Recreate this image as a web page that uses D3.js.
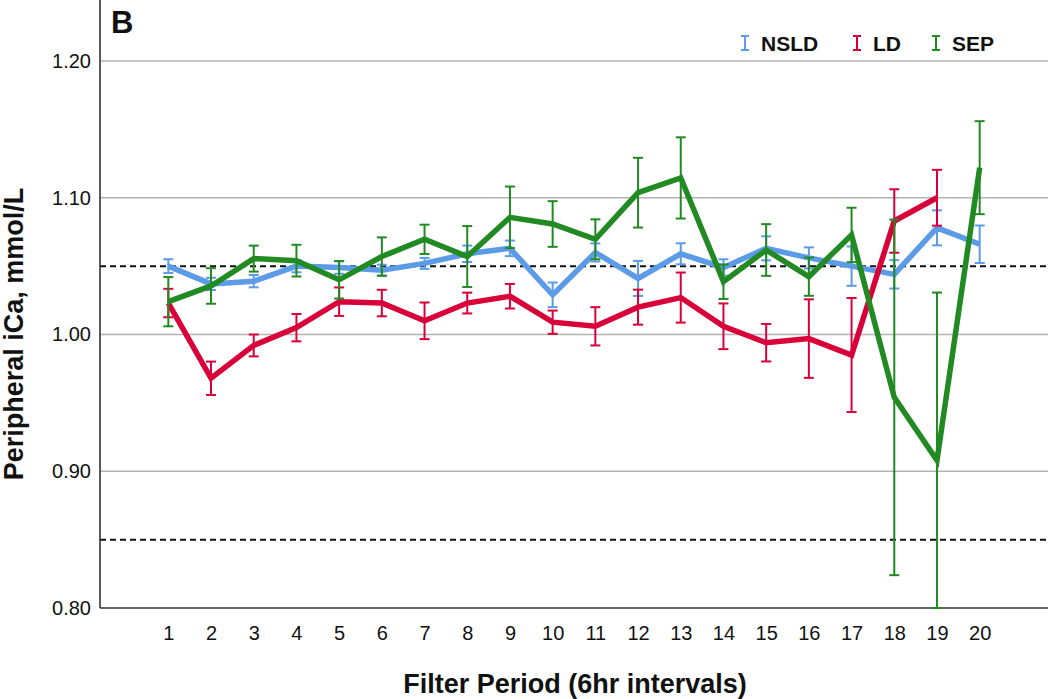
<!DOCTYPE html>
<html><head><meta charset="utf-8">
<script src="https://cdn.jsdelivr.net/npm/d3@7"></script>
<style>body{margin:0;background:#fff;} svg{display:block;font-family:"Liberation Sans",Arial,sans-serif;}</style>
</head><body>
<svg id="chart" width="1050" height="699"></svg>
<script>
const periods = [1,2,3,4,5,6,7,8,9,10,11,12,13,14,15,16,17,18,19,20];
const yTicks = [0.80,0.90,1.00,1.10,1.20];
const refLines = [1.05,0.85];
const seriesNames = ["NSLD","LD","SEP"];
const seriesColors = ["#5b9be8","#d9003a","#228a22"];
const nsldMean = [1.050,1.037,1.039,1.050,1.049,1.047,1.052,1.059,1.063,1.029,1.060,1.041,1.059,1.049,1.063,1.056,1.050,1.044,1.078,1.066];
const nsldErr  = [0.005,0.0045,0.0045,0.0045,0.0046,0.004,0.004,0.006,0.0057,0.009,0.0066,0.0128,0.0077,0.006,0.0088,0.0077,0.0144,0.0104,0.0128,0.0137];
const ldMean   = [1.023,0.968,0.992,1.005,1.024,1.023,1.010,1.023,1.028,1.009,1.006,1.020,1.027,1.006,0.994,0.997,0.985,1.083,1.100,null];
const ldErr    = [0.0104,0.0122,0.008,0.010,0.0104,0.0097,0.0134,0.0076,0.009,0.0085,0.014,0.0128,0.0183,0.0167,0.0137,0.0287,0.0417,0.0232,0.0204,null];
const sepMean  = [1.024,1.0355,1.0555,1.054,1.040,1.057,1.0696,1.057,1.0857,1.0808,1.0696,1.1037,1.1145,1.0386,1.0618,1.0423,1.0728,0.954,0.908,1.122];
const sepErr   = [0.018,0.013,0.0095,0.0116,0.0137,0.014,0.0107,0.0223,0.0225,0.0167,0.0146,0.0255,0.0297,0.0126,0.0189,0.014,0.0199,0.130,0.1227,0.034];

const means = [nsldMean, ldMean, sepMean];
const errs = [nsldErr, ldErr, sepErr];

const svg = d3.select("#chart");
const pLeft = 100, pRight = 1048, pTop = 0, pBottom = 608;
const x = d3.scaleLinear().domain([-0.6, 21.6]).range([pLeft, pRight]);
const y = d3.scaleLinear().domain([0.80, 1.20]).range([pBottom, 61]);

// gridlines
svg.append("g").selectAll("line").data(yTicks.slice(1)).join("line")
  .attr("x1", pLeft).attr("x2", pRight)
  .attr("y1", d => y(d)).attr("y2", d => y(d))
  .attr("stroke", "#b3b3b3").attr("stroke-width", 1.6);

// reference dashed lines
svg.append("g").selectAll("line").data(refLines).join("line")
  .attr("x1", pLeft).attr("x2", pRight)
  .attr("y1", d => y(d)).attr("y2", d => y(d))
  .attr("stroke", "#111").attr("stroke-width", 2).attr("stroke-dasharray", "6,4");

// y axis labels
const yAxis = d3.axisLeft(y).tickValues(yTicks).tickFormat(d3.format(".2f")).tickSize(0).tickPadding(9);
const gy = svg.append("g").attr("transform", `translate(${pLeft},0)`).call(yAxis);
gy.select(".domain").remove();
gy.selectAll("text").attr("font-size", 20).attr("fill", "#111").style("font-family", "'Liberation Sans',Arial,sans-serif");

// x axis labels
const xAxis = d3.axisBottom(x).tickValues(periods).tickFormat(d3.format("d")).tickSize(0).tickPadding(18);
const gx = svg.append("g").attr("transform", `translate(0,${pBottom})`).call(xAxis);
gx.select(".domain").remove();
gx.selectAll("text").attr("font-size", 20).attr("fill", "#111").style("font-family", "'Liberation Sans',Arial,sans-serif");

// axis lines
svg.append("line").attr("x1", pLeft).attr("x2", pLeft).attr("y1", pTop).attr("y2", pBottom)
  .attr("stroke", "#333").attr("stroke-width", 1.6);
svg.append("line").attr("x1", pLeft).attr("x2", pRight).attr("y1", pBottom).attr("y2", pBottom)
  .attr("stroke", "#333").attr("stroke-width", 1.6);

// series
const line = d3.line().defined(d => d.v != null).x(d => x(d.p)).y(d => y(d.v));
const cap = 5;
seriesNames.forEach((name, i) => {
  const data = periods.map((p, j) => ({p, v: means[i][j], e: errs[i][j]}));
  const g = svg.append("g");
  g.append("path").datum(data).attr("d", line)
    .attr("fill", "none").attr("stroke", seriesColors[i]).attr("stroke-width", 5.5)
    .attr("stroke-linejoin", "miter");
  const eb = g.selectAll("g.eb").data(data.filter(d => d.v != null)).join("g");
  const lo = d => y(Math.max(0.80, d.v - d.e));
  const hi = d => y(Math.min(1.20, d.v + d.e));
  eb.append("line").attr("x1", d => x(d.p)).attr("x2", d => x(d.p))
    .attr("y1", hi).attr("y2", lo).attr("stroke", seriesColors[i]).attr("stroke-width", 2);
  eb.append("line").attr("x1", d => x(d.p) - cap).attr("x2", d => x(d.p) + cap)
    .attr("y1", hi).attr("y2", hi).attr("stroke", seriesColors[i]).attr("stroke-width", 2);
  eb.append("line").attr("x1", d => x(d.p) - cap).attr("x2", d => x(d.p) + cap)
    .attr("y1", lo).attr("y2", lo).attr("stroke", seriesColors[i]).attr("stroke-width", 2);
});

// legend
const legX = [745, 857, 936];
const legY = 43;
seriesNames.forEach((name, i) => {
  const g = svg.append("g").attr("transform", `translate(${legX[i]},${legY})`);
  g.append("line").attr("x1", 0).attr("x2", 0).attr("y1", -7).attr("y2", 7).attr("stroke", seriesColors[i]).attr("stroke-width", 2);
  g.append("line").attr("x1", -4).attr("x2", 4).attr("y1", -7).attr("y2", -7).attr("stroke", seriesColors[i]).attr("stroke-width", 2);
  g.append("line").attr("x1", -4).attr("x2", 4).attr("y1", 7).attr("y2", 7).attr("stroke", seriesColors[i]).attr("stroke-width", 2);
  g.append("text").attr("x", 16).attr("y", 7.5).attr("font-size", 21).attr("font-weight", "bold").attr("fill", "#111").text(name);
});

// panel label
svg.append("text").attr("x", 111).attr("y", 33).attr("font-size", 31).attr("font-weight", "bold").attr("fill", "#111").text("B");

// axis titles
svg.append("text").attr("x", 575).attr("y", 693).attr("text-anchor", "middle")
  .attr("font-size", 27).attr("font-weight", "bold").attr("fill", "#111").text("Filter Period (6hr intervals)");
svg.append("text").attr("transform", "translate(23,334) rotate(-90)").attr("text-anchor", "middle")
  .attr("font-size", 27).attr("font-weight", "bold").attr("fill", "#111").text("Peripheral iCa, mmol/L");
</script>
</body></html>
